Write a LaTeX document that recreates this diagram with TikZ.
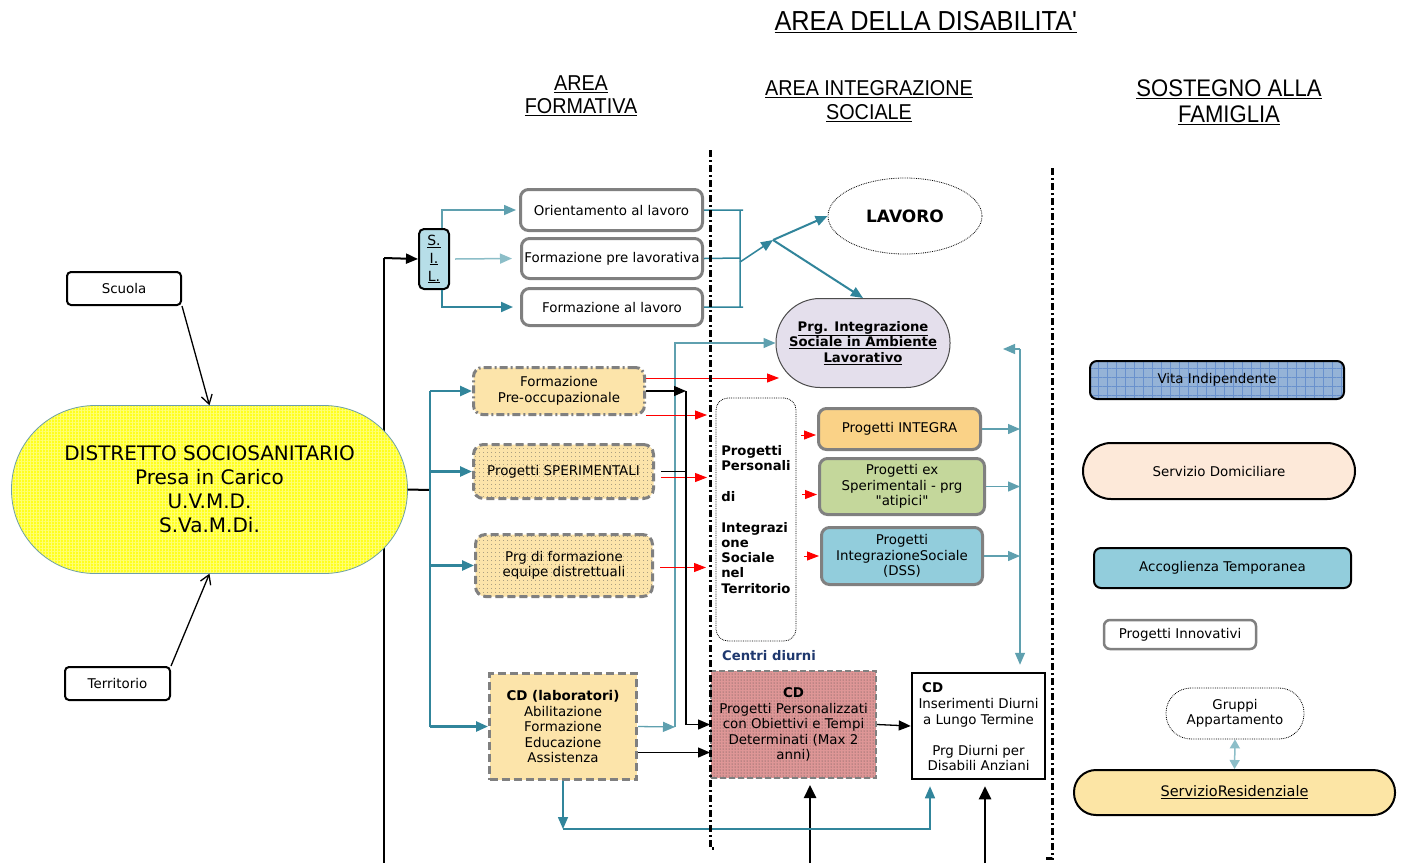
\documentclass[tikz,border=0pt]{standalone}
\usepackage{fontspec}
\setmainfont{DejaVu Sans}
\newfontfamily\headfont[FakeStretch=0.92]{Liberation Sans}
\usetikzlibrary{arrows.meta,shapes.geometric,patterns.meta}

\definecolor{tealD}{RGB}{49,133,155}
\definecolor{tealM}{RGB}{95,160,175}
\definecolor{tealL}{RGB}{140,190,200}
\definecolor{boxgray}{RGB}{128,128,128}
\definecolor{sand}{RGB}{252,228,170}
\definecolor{integracol}{RGB}{250,210,135}
\definecolor{sage}{RGB}{196,215,155}
\definecolor{sky}{RGB}{146,205,220}
\definecolor{lilac}{RGB}{228,223,236}
\definecolor{rose}{RGB}{222,150,150}
\definecolor{vitablue}{RGB}{149,179,215}
\definecolor{vitagrid}{RGB}{105,145,205}
\definecolor{peach}{RGB}{253,233,217}
\definecolor{cream}{RGB}{252,229,165}
\definecolor{navy}{RGB}{31,56,110}
\definecolor{distyellow}{RGB}{255,255,30}
\definecolor{distedge}{RGB}{110,160,170}
\definecolor{silblue}{RGB}{183,222,232}

\begin{document}
\begin{tikzpicture}[x=1pt,y=-1pt,
  every node/.style={font=\fontsize{13.4}{15.5}\selectfont, align=center, inner sep=1pt},
  plainbox/.style={draw=black, line width=2pt, rounded corners=4pt, fill=white},
  graybox/.style={draw=boxgray, line width=3pt, rounded corners=8pt, fill=white},
  dashbox/.style={draw=boxgray, line width=3pt, dash pattern=on 8pt off 4pt, rounded corners=10pt},
  dotfill/.style={preaction={fill=sand}, pattern={Dots[distance=4pt,radius=0.45pt]}, pattern color=black!65},
  tarrow/.style={-{Triangle[length=12pt,width=10pt]}},
  rarrow/.style={red, line width=1pt, -{Triangle[length=12pt,width=9pt]}},
  barrow/.style={-{Triangle[length=12pt,width=10pt]}},
  divider/.style={line width=3pt, dash pattern=on 7pt off 3pt on 2pt off 3pt},
]
\fill[white] (0,0) rectangle (1407,863);
\useasboundingbox (0,0) rectangle (1407,863);

% main spine, drawn beneath the district
\coordinate (vtop) at (384,258);
\coordinate (vbot) at (384,863);
\draw[line width=2.5pt] (vtop) -- (vbot);

% headings
\node[font=\headfont\fontsize{27.5}{32}\selectfont] (hmain) at (926,22) {\underline{AREA DELLA DISABILITA\textquotesingle}};
\node[font=\headfont\fontsize{21.5}{23}\selectfont] (hform) at (581,96) {\underline{AREA}\\\underline{FORMATIVA}};
\node[font=\headfont\fontsize{21.5}{24}\selectfont] (hint) at (869,101) {\underline{AREA INTEGRAZIONE}\\\underline{SOCIALE}};
\node[font=\headfont\fontsize{24}{26}\selectfont] (hfam) at (1229,102) {\underline{SOSTEGNO ALLA}\\\underline{FAMIGLIA}};

% left column
\node[plainbox, minimum width=114pt, minimum height=33pt] (scuola) at (124,288.5) {Scuola};
\node[plainbox, minimum width=105pt, minimum height=33pt] (territorio) at (117.5,683.5) {Territorio};
\node[draw=distedge, line width=0.8pt, preaction={fill=distyellow},
      pattern={Hatch[distance=3pt,angle=0,line width=0.3pt]}, pattern color=yellow!55!white,
      rounded corners=83.5pt, minimum width=396pt, minimum height=168pt,
      font=\fontsize{20}{24}\selectfont] (distretto) at (209.5,489.5)
      {DISTRETTO SOCIOSANITARIO\\Presa in Carico\\U.V.M.D.\\S.Va.M.Di.};

% job-training branch
\node[draw=black, line width=2pt, fill=silblue, rounded corners=5pt, minimum width=30pt, minimum height=60pt,
      font=\fontsize{14}{18}\selectfont] (sil) at (434,259) {\underline{S.}\\\underline{I.}\\\underline{L.}};
\node[graybox, minimum width=182pt, minimum height=41pt] (orient) at (611.5,210) {Orientamento al lavoro};
\node[graybox, minimum width=181pt, minimum height=40pt] (formpre) at (612,258.5) {Formazione pre lavorativa};
\node[graybox, minimum width=181pt, minimum height=37pt] (formlav) at (612,307) {Formazione al lavoro};

\node[draw, ellipse, densely dotted, line width=0.8pt, minimum width=154pt, minimum height=76pt,
      font=\bfseries\fontsize{17}{20}\selectfont] (lavoro) at (905,216) {LAVORO};
\node[draw=black!70, line width=1pt, fill=lilac, rounded corners=44pt, minimum width=174pt, minimum height=89pt,
      font=\bfseries\fontsize{13.2}{15.5}\selectfont] (prgint) at (863,343)
      {\underline{Prg. Integrazione}\\\underline{Sociale in Ambiente}\\\underline{Lavorativo}};

% training area
\node[draw=boxgray, line width=3pt, dash pattern=on 8pt off 3pt on 2pt off 3pt, rounded corners=9pt, fill=sand,
      minimum width=171pt, minimum height=47pt] (fpo) at (559,391) {Formazione\\Pre-occupazionale};
\node[dashbox, dotfill, minimum width=180pt, minimum height=54pt] (sper) at (563.5,471.5) {Progetti SPERIMENTALI};
\node[dashbox, dotfill, minimum width=177pt, minimum height=62pt] (prgf) at (564,565.5) {Prg di formazione\\equipe distrettuali};
\node[draw=boxgray, line width=3pt, dash pattern=on 8pt off 4pt, fill=sand, minimum width=147pt, minimum height=106pt]
      (cdlab) at (563,726.5) {\textbf{CD (laboratori)}\\Abilitazione\\Formazione\\Educazione\\Assistenza};

% social integration area
\node[draw, densely dotted, line width=0.8pt, rounded corners=12pt, minimum width=80pt, minimum height=243pt,
      font=\bfseries\fontsize{13.2}{15.3}\selectfont, align=left] (pers) at (756,519.5)
      {Progetti\\Personali\\[15.3pt]di\\[15.3pt]Integrazi\\one\\Sociale\\nel\\Territorio};
\node[graybox, fill=integracol, minimum width=162pt, minimum height=41pt] (integra) at (899.5,429) {Progetti INTEGRA};
\node[graybox, fill=sage, minimum width=165pt, minimum height=56pt] (exsper) at (902,486.5)
      {Progetti ex\\Sperimentali - prg\\\textquotedbl atipici\textquotedbl};
\node[graybox, fill=sky, minimum width=161pt, minimum height=57pt] (dss) at (902,556) {Progetti\\IntegrazioneSociale\\(DSS)};

\node[font=\bfseries\fontsize{13.2}{15}\selectfont, text=navy] (centri) at (769,656) {Centri diurni};
\node[draw=boxgray, line width=2pt, dash pattern=on 6pt off 3pt, preaction={fill=rose},
      pattern={Dots[distance=3pt,radius=0.5pt]}, pattern color=black!70,
      minimum width=165pt, minimum height=107pt] (cdr) at (793.5,724.5)
      {\textbf{CD}\\Progetti Personalizzati\\con Obiettivi e Tempi\\Determinati (Max 2\\anni)};
\node[draw=black, line width=2.5pt, fill=white, minimum width=133pt, minimum height=106pt] (cdw) at (978.5,726) {};
\node[font=\bfseries\fontsize{13.4}{15}\selectfont, anchor=west] (cdwhead) at (921,688) {CD};
\node (cdwtext) at (978.5,734.5) {Inserimenti Diurni\\a Lungo Termine\\[15.5pt]Prg Diurni per\\Disabili Anziani};

% family support column
\node[draw=black, line width=2pt, rounded corners=7pt, preaction={fill=vitablue},
      pattern={Hatch[distance=9pt,angle=0,line width=0.8pt]}, pattern color=vitagrid,
      minimum width=254pt, minimum height=38pt] (vita) at (1217,380) {Vita Indipendente};
\node[draw=black, line width=2pt, fill=peach, rounded corners=28pt, minimum width=272pt, minimum height=56pt] (domic) at (1219,471) {Servizio Domiciliare};
\node[draw=black, line width=2pt, fill=sky, rounded corners=7pt, minimum width=257pt, minimum height=40pt] (accog) at (1222.5,568) {Accoglienza Temporanea};
\node[graybox, line width=2.5pt, rounded corners=6pt, minimum width=152pt, minimum height=29pt] (innov) at (1180,634.5) {Progetti Innovativi};
\node[draw, densely dotted, line width=0.8pt, rounded corners=25pt, minimum width=138pt, minimum height=51pt] (gruppi) at (1235,713.5) {Gruppi\\Appartamento};
\node[draw=black, line width=2pt, fill=cream, rounded corners=22pt, minimum width=321pt, minimum height=45pt,
      font=\fontsize{14.5}{17}\selectfont] (resid) at (1234.5,792.5) {\underline{ServizioResidenziale}};

% entry points into the district
\draw[line width=1.3pt, -{Straight Barb[length=9pt,width=11pt]}] (scuola.south east) -- (distretto.north);
\draw[line width=1.3pt, -{Straight Barb[length=9pt,width=11pt]}] (territorio.north east) -- (distretto.south);
\draw[line width=2pt, barrow] (vtop) -- (sil.west);

% district to the training area
\coordinate (hub) at (430,490);
\draw[line width=2pt] (distretto.east) -- (hub);
\draw[tealD, line width=2.5pt] (hub |- fpo.west) -- (hub |- cdlab.west);
\foreach \t in {fpo,sper,prgf,cdlab}
  \draw[tealD, line width=2.5pt, tarrow] (hub |- \t.west) -- (\t.west);

% S.I.L. branches
\draw[tealM, line width=1.5pt, tarrow] ([xshift=8pt]sil.north) |- ([xshift=-3pt]orient.west);
\draw[tealL, line width=1.5pt, tarrow] ([xshift=5pt]sil.east) -- ([xshift=-8pt]formpre.west);
\draw[tealD, line width=2pt, tarrow] ([xshift=8pt]sil.south) |- ([xshift=-7pt]formlav.west);

% bracket towards work
\coordinate (br) at (740,258);
\draw[tealD, line width=1.5pt] (orient.east) -- ++(39,0) (formpre.east) -- (br) (formlav.east) -- ++(39,0)
  (br |- orient.east) -- (br |- formlav.east);
\coordinate (jn) at (773,240);
\draw[tealD, line width=1.5pt, tarrow] ([yshift=-4pt]br) -- (jn);
\draw[tealD, line width=2pt, tarrow] (jn) -- (lavoro.west);
\draw[tealD, line width=2pt, tarrow] (jn) -- (prgint.north);

% day-centre labs feeding the workplace integration project
\coordinate (feed) at (675,727);
\draw[tealM, line width=1.3pt, tarrow] (cdlab.east) -- (feed);
\draw[tealM, line width=1.3pt, tarrow] (feed) |- (prgint.west);

% red links into social integration
\draw[rarrow] ([yshift=13pt]fpo.east) -- ++(133,0);
\draw[rarrow] ([yshift=-24pt]fpo.east) -- ++(61,0);
\draw[rarrow] ([xshift=6pt,yshift=-6pt]sper.east) -- ++(46,0);
\draw[rarrow] ([xshift=6pt,yshift=-2pt]prgf.east) -- ++(46,0);
\foreach \t/\dy in {integra/-6pt, exsper/-8pt, dss/0pt}
  \draw[rarrow] ([xshift=-16pt,yshift=\dy]\t.west) -- ([xshift=-1pt,yshift=\dy]\t.west);

% black links into the day centre
\coordinate (bk) at (686,391);
\draw[line width=1.3pt, barrow] (fpo.east) -- (bk);
\draw[line width=1.3pt, barrow] (bk) |- (cdr.west);
\draw[line width=1.3pt] ([xshift=6pt]sper.east) -- (sper.east -| bk);
\draw[line width=1.3pt, barrow] ([yshift=-26pt]cdlab.east) -- ++(72,0);

% outputs of territorial projects
\coordinate (col) at (1020,349);
\draw[tealM, line width=1.3pt, tarrow] (col) -- ++(-17,0);
\draw[tealM, line width=1.3pt, tarrow, shorten >=7pt] (col) -- (col |- cdw.north);
\foreach \t in {integra, exsper, dss}
  \draw[tealM, line width=1.3pt, tarrow] (\t.east) -- (\t.east -| col);

% day-centre chain
\draw[line width=1.3pt, barrow] (cdr.east) -- (cdw.west);
\coordinate (up1) at (810,863);
\coordinate (up2) at (985,863);
\draw[line width=2.5pt, -{Triangle[length=13pt,width=12pt]}, shorten >=6pt] (up1) -- (up1 |- cdr.south);
\draw[line width=2.5pt, -{Triangle[length=13pt,width=12pt]}, shorten >=6pt] (up2) -- (up2 |- cdw.south);
\coordinate (lp) at (563,829);
\coordinate (lq) at (930,829);
\draw[tealD, line width=1.5pt, tarrow] (cdlab.south) -- (lp);
\draw[tealD, line width=1.5pt, tarrow, shorten >=6pt] (lp) -- (lq) -- (lq |- cdw.south);

% residential link
\draw[tealL, line width=1.5pt, {Triangle[length=9pt,width=10pt]}-{Triangle[length=9pt,width=10pt]}] (gruppi.south) -- (resid.north);

% area dividers
\coordinate (d1t) at (710,150);
\coordinate (d1b) at (710,848);
\coordinate (d2t) at (1052,168);
\coordinate (d2b) at (1052,858);
\draw[divider] (d1t) -- (d1b) -- ++(6,0);
\draw[divider] (d2t) -- (d2b) -- ++(-6,0);
\end{tikzpicture}
\end{document}
